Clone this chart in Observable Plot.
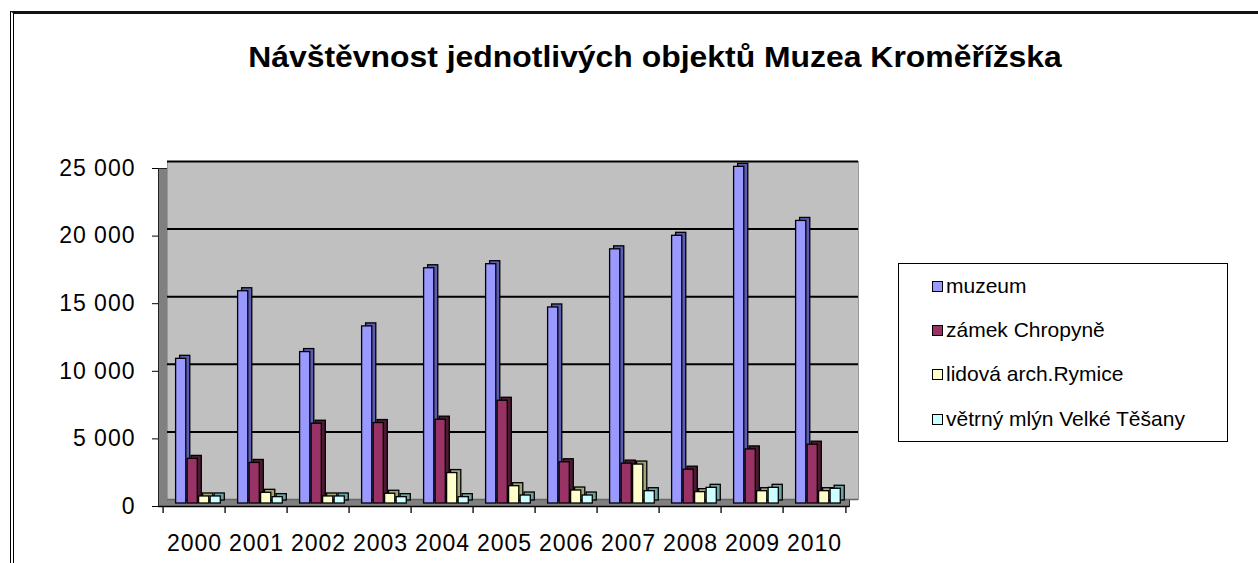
<!DOCTYPE html>
<html>
<head>
<meta charset="utf-8">
<script src="https://cdn.jsdelivr.net/npm/d3@7"></script>
<script src="https://cdn.jsdelivr.net/npm/@observablehq/plot@0.6"></script>
<style>
  html, body { margin: 0; padding: 0; background: #fff; }
  #page { position: relative; width: 1258px; height: 563px; overflow: hidden; font-family: "Liberation Sans", Arial, sans-serif; }
  #border { position: absolute; left: 10px; top: 11px; width: 1260px; height: 600px; border-top: 3px solid #111; border-left: 4px double #000; box-sizing: border-box; }
  #title { position: absolute; left: 0; width: 1310px; top: 43px; text-align: center; font-size: 29px; line-height: 29px; font-weight: bold; color: #000; transform: scaleX(1.1); transform-origin: 655px 0; }
  #chart { position: absolute; left: 0; top: 0; }
  #chart svg text { letter-spacing: 1px; }
  #legend { position: absolute; left: 898px; top: 263px; width: 330px; height: 179px; border: 1.5px solid #000; box-sizing: border-box; background: #fff; }
  .item { position: absolute; left: 33px; height: 24px; display: flex; align-items: center; font-size: 21px; color: #000; white-space: nowrap; }
  .sw { width: 9px; height: 9px; border: 1.5px solid #000; margin-right: 3px; }
</style>
</head>
<body>
<div id="page">
  <div id="border"></div>
  <div id="title">Návštěvnost jednotlivých objektů Muzea Kroměřížska</div>
  <div id="chart"></div>
  <div id="legend"></div>
</div>
<script>
const years = ["2000","2001","2002","2003","2004","2005","2006","2007","2008","2009","2010"];
const seriesNames = ["muzeum","zámek Chropyně","lidová arch.Rymice","větrný mlýn Velké Těšany"];
const muzeum = [10700,15700,11200,13100,17400,17700,14500,18800,19800,24900,20900];
const zamek  = [3300,3000,5900,5950,6200,7600,3050,2950,2500,4000,4350];
const lidova = [520,790,520,720,2250,1280,960,2880,840,910,910];
const vetrny = [520,470,520,470,470,590,590,910,1160,1160,1090];
const yTicks = [0,5000,10000,15000,20000,25000];
const frontColors = ["#9999FF","#993366","#FFFFCC","#CCFFFF"];
const sideColors  = ["#5c5cb0","#4d1a33","#a3a37a","#6fa3a3"];

const values = [muzeum, zamek, lidova, vetrny];
const tables = values.map((vals, j) => years.map((yr, i) => ({year: yr, value: vals[i], series: seriesNames[j]})));

const fmt = d3.formatLocale({thousands: " ", grouping: [3], decimal: ","}).format(",");

const W = 880, ML = 158, MR = 31;
const band = (W - ML - MR) / years.length;
const barW = 11;
const inset = (band - barW) / 2;

const barMarks = [];
tables.forEach((t, j) => {
  const dx = -13.3 + 11.5 * j;
  barMarks.push(Plot.barY(t, {x: "year", y: "value", fill: sideColors[j], stroke: "#000", strokeWidth: 1.3,
    insetLeft: inset, insetRight: inset, dx: dx + 4, dy: -6}));
  barMarks.push(Plot.barY(t, {x: "year", y: "value", fill: frontColors[j], stroke: "#000", strokeWidth: 1.3,
    insetLeft: inset, insetRight: inset, dx: dx, dy: -3}));
});

const chart = Plot.plot({
  width: W,
  height: 563,
  marginLeft: ML,
  marginRight: MR,
  marginTop: 168,
  marginBottom: 57,
  style: {fontSize: "23px", fontFamily: "'Liberation Sans', Arial, sans-serif", color: "#000", background: "transparent", overflow: "visible"},
  x: {type: "band", domain: years, paddingInner: 0, paddingOuter: 0, tickSize: 0, tickPadding: 28, label: null},
  y: {domain: [0, 25000], ticks: yTicks, tickFormat: fmt, tickSize: 6, tickPadding: 17, label: null, line: true},
  marks: [
    Plot.frame({fill: "#808080", stroke: "#222"}),
    Plot.frame({fill: "#c0c0c0", stroke: "#999", dx: 9, dy: -7}),
    Plot.ruleY(yTicks.slice(1), {dx: 9, dy: -7, stroke: "#000", strokeWidth: 2}),
    Plot.ruleY([0], {dx: 9, dy: -7, stroke: "#666", strokeWidth: 1.5}),
    ...barMarks,
    Plot.ruleY([0], {stroke: "#000", strokeWidth: 1.5}),
    Plot.ruleX(years, {x: d => d, y1: 0, y2: -520, dx: -band / 2, stroke: "#000", strokeWidth: 1.3}),
    Plot.ruleX(years.slice(-1), {x: d => d, y1: 0, y2: -520, dx: band / 2, stroke: "#000", strokeWidth: 1.3})
  ]
});
document.getElementById("chart").appendChild(chart);

const legend = document.getElementById("legend");
const itemTops = [10, 54, 98, 143];
seriesNames.forEach((name, j) => {
  const it = document.createElement("div");
  it.className = "item";
  it.style.top = itemTops[j] + "px";
  const sw = document.createElement("div");
  sw.className = "sw";
  sw.style.background = frontColors[j];
  const tx = document.createElement("span");
  tx.textContent = name;
  it.appendChild(sw);
  it.appendChild(tx);
  legend.appendChild(it);
});
</script>
</body>
</html>
